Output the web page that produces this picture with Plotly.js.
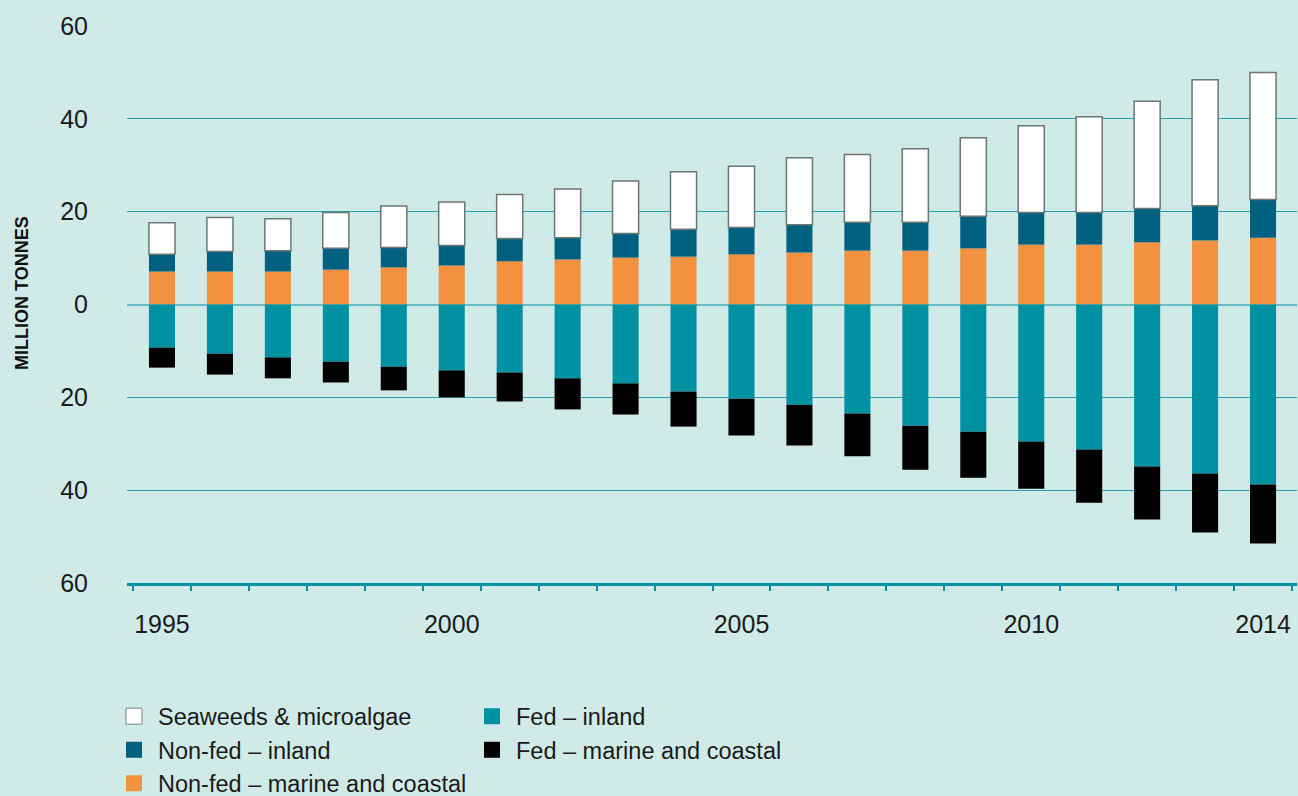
<!DOCTYPE html>
<html>
<head>
<meta charset="utf-8">
<script src="https://cdn.plot.ly/plotly-3.0.1.min.js"></script>
<style>
html,body{margin:0;padding:0;background:#d0eae8;}
#chart{width:1298px;height:796px;}
</style>
</head>
<body>
<div id="chart"></div>
<script>
// Aquaculture production, million tonnes (fed species shown below zero)
const years = [1995,1996,1997,1998,1999,2000,2001,2002,2003,2004,2005,2006,2007,2008,2009,2010,2011,2012,2013,2014];
const nonFedMarine = [7.1,7.1,7.1,7.5,8.0,8.4,9.3,9.7,10.1,10.3,10.8,11.2,11.6,11.6,12.1,12.9,12.9,13.4,13.8,14.4];
const nonFedInland = [3.7,4.3,4.5,4.6,4.3,4.3,4.9,4.7,5.2,5.9,5.8,6.0,6.1,6.1,6.9,6.9,6.9,7.3,7.5,8.2];
const seaweeds     = [6.8,7.35,6.9,7.7,8.9,9.4,9.5,10.5,11.3,12.4,13.2,14.4,14.6,15.85,16.9,18.7,20.65,23.1,27.1,27.4];
const fedInland    = [-9.3,-10.6,-11.4,-12.3,-13.4,-14.2,-14.65,-15.9,-17.0,-18.75,-20.3,-21.6,-23.5,-26.1,-27.4,-29.5,-31.25,-34.9,-36.4,-38.8];
const fedMarine    = [-4.3,-4.5,-4.5,-4.5,-5.1,-5.8,-6.25,-6.7,-6.7,-7.55,-7.9,-8.8,-9.2,-9.5,-9.9,-10.2,-11.45,-11.4,-12.7,-12.7];

const yTickVals = [-60,-40,-20,0,20,40,60];
const yTickText = ['60','40','20','0','20','40','60'];
const xTickVals = [1995,2000,2005,2010,2014];
const xTickText = ['1995','2000','2005','2010','2014'];
const yAxisTitle = 'MILLION TONNES';

const FONT = 'Liberation Sans, Arial, sans-serif';
const BG = '#d0eae8';
const BARW = 0.45;

const series = [
  // stacking order: positives and negatives stack separately in trace order
  {name: 'Non-fed – marine and coastal', y: nonFedMarine, color: '#f29240', legend: 'legend',  rank: 3},
  {name: 'Fed – inland',                 y: fedInland,    color: '#0091a3', legend: 'legend2', rank: 1},
  {name: 'Non-fed – inland',             y: nonFedInland, color: '#00607f', legend: 'legend',  rank: 2},
  {name: 'Fed – marine and coastal',     y: fedMarine,    color: '#000000', legend: 'legend2', rank: 2},
  {name: 'Seaweeds & microalgae',        y: seaweeds,     color: '#ffffff', legend: 'legend',  rank: 1,
   line: {color: '#6b7676', width: 1.5}}
];

const traces = [];
series.forEach(s => {
  traces.push({
    type: 'bar', name: s.name, x: years, y: s.y, width: BARW,
    marker: {color: s.color, line: s.line || {width: 0}},
    showlegend: false, hoverinfo: 'x+y+name'
  });
});
// legend entries (square keys)
series.forEach(s => {
  traces.push({
    type: 'scatter', mode: 'markers', name: s.name, x: [null], y: [null],
    marker: {symbol: 'square', size: 16, color: s.color,
             line: s.line ? {color: '#7a8585', width: 1} : {width: 0}},
    legend: s.legend, legendrank: s.rank, showlegend: true, hoverinfo: 'skip'
  });
});

const legendCommon = {
  orientation: 'v', traceorder: 'normal', itemwidth: 38,
  bgcolor: 'rgba(0,0,0,0)', borderwidth: 0,
  font: {family: FONT, size: 23.5, color: '#1a1a1a'},
  xanchor: 'left', yanchor: 'top', y: -0.2
};

const layout = {
  width: 1298, height: 796,
  margin: {l: 127, r: 1, t: 26, b: 213, autoexpand: false},
  paper_bgcolor: BG, plot_bgcolor: BG,
  barmode: 'relative',
  font: {family: FONT, color: '#1a1a1a'},
  xaxis: {
    range: [1994.3965, 2014.586],
    tickmode: 'array', tickvals: xTickVals, ticktext: xTickText,
    ticks: 'outside', ticklen: 17, tickcolor: 'rgba(0,0,0,0)',
    tickfont: {family: FONT, size: 25, color: '#1a1a1a'},
    showgrid: false, zeroline: false,
    showline: true, linecolor: '#0090a3', linewidth: 2.5,
    minor: {tick0: 1994.5, dtick: 1, ticks: 'outside', ticklen: 5, tickwidth: 2, tickcolor: '#0090a3', showgrid: false},
    fixedrange: true
  },
  yaxis: {
    range: [-60, 60],
    tickmode: 'array', tickvals: yTickVals, ticktext: yTickText,
    ticks: 'outside', ticklen: 33, tickcolor: 'rgba(0,0,0,0)',
    tickfont: {family: FONT, size: 25, color: '#1a1a1a'},
    showgrid: true, gridcolor: '#2a9fad', gridwidth: 1,
    zeroline: true, zerolinecolor: '#66bcc4', zerolinewidth: 2,
    showline: false, fixedrange: true
  },
  legend: Object.assign({}, legendCommon, {x: -0.01453}),
  legend2: Object.assign({}, legendCommon, {x: 0.29145}),
  annotations: [{
    text: '<b>' + yAxisTitle + '</b>',
    xref: 'paper', yref: 'paper', x: -0.0893, y: 0.5198,
    xanchor: 'center', yanchor: 'middle', textangle: -90,
    showarrow: false, font: {family: FONT, size: 18, color: '#111111'}
  }],
  showlegend: true
};

Plotly.newPlot('chart', traces, layout, {displayModeBar: false, staticPlot: true});
</script>
</body>
</html>
